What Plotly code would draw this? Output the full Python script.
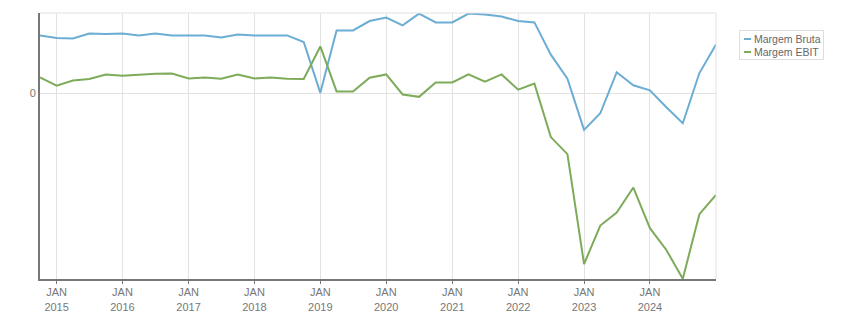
import plotly.graph_objects as go
import pandas as pd

# Quarterly observations, Q4-2014 .. Q1-2025 (plotted at quarter start)
dates = list(pd.date_range("2014-10-01", "2025-01-01", freq="QS"))

margem_bruta = [28.8, 27.5, 27.3, 29.8, 29.5, 29.8, 28.8, 29.8, 28.8, 28.8,
                28.8, 27.8, 29.3, 28.8, 28.8, 28.8, 25.5, 0.1, 31.3, 31.3,
                36.0, 37.7, 33.8, 39.7, 35.3, 35.3, 39.7, 39.3, 38.2, 36.0,
                35.3, 19.2, 7.2, -18.4, -10.1, 10.4, 3.9, 1.4, -7.1, -15.1,
                10.0, 24.3]
margem_ebit = [7.8, 3.7, 6.3, 7.0, 9.3, 8.7, 9.2, 9.7, 9.8, 7.3,
               7.8, 7.2, 9.3, 7.3, 7.8, 7.2, 7.0, 23.3, 0.8, 0.8,
               7.7, 9.3, -0.7, -1.9, 5.3, 5.3, 9.3, 5.7, 9.3, 1.7,
               4.7, -22.0, -30.5, -85.4, -66.2, -59.7, -47.2, -67.5, -78.4, -92.8,
               -60.5, -50.9]

series_names = ["Margem Bruta", "Margem EBIT"]
series_colors = ["#6cadd4", "#7dab5a"]

tick_dates = [f"{y}-01-01" for y in range(2015, 2025)]
tick_text = [f"JAN<br>{y}" for y in range(2015, 2025)]

fig = go.Figure()
for name, vals, col in zip(series_names, [margem_bruta, margem_ebit], series_colors):
    fig.add_trace(go.Scatter(x=dates, y=vals, mode="lines", name=name,
                             line=dict(color=col, width=2), showlegend=False))

fig.update_layout(
    width=851, height=313,
    margin=dict(l=40, r=135, t=13, b=34),
    paper_bgcolor="white", plot_bgcolor="white",
    font=dict(family="Liberation Sans, Arial, sans-serif", size=11, color="#777"),
    xaxis=dict(
        type="date", range=["2014-10-01", "2025-01-01"], automargin=False,
        tickvals=tick_dates, ticktext=tick_text,
        showgrid=True, gridcolor="#e2e2e2", gridwidth=1,
        showline=True, linecolor="#777", linewidth=2,
        ticks="outside", ticklen=3, tickcolor="#777", tickwidth=1,
        ticklabelstandoff=-1,
        tickfont=dict(size=11, color="#777"), zeroline=False,
    ),
    yaxis=dict(
        range=[-92.9, 40], tickvals=[0], ticktext=["0"], automargin=False,
        showgrid=True, gridcolor="#e2e2e2", gridwidth=1,
        showline=True, linecolor="#777", linewidth=2,
        ticks="", zeroline=False, tickfont=dict(size=11, color="#777"),
    ),
)

# top and right frame lines
fig.add_shape(type="line", xref="paper", yref="paper", x0=0, x1=1, y0=1, y1=1,
              line=dict(color="#e2e2e2", width=1))
fig.add_shape(type="line", xref="paper", yref="paper", x0=1, x1=1, y0=0, y1=1,
              line=dict(color="#e2e2e2", width=1))

# legend (custom, compact)
W, H = 676.0, 266.0
def px(x):
    return (x - 40) / W
def py(y):
    return (279 - y) / H

fig.add_shape(type="rect", xref="paper", yref="paper",
              x0=px(739.5), x1=px(823.5), y0=py(59.5), y1=py(30.5),
              line=dict(color="#dddddd", width=1), fillcolor="white")
for i, (name, col) in enumerate(zip(series_names, series_colors)):
    yy = 39 + 13 * i
    fig.add_shape(type="line", xref="paper", yref="paper",
                  x0=px(744), x1=px(751), y0=py(yy), y1=py(yy),
                  line=dict(color=col, width=2))
    fig.add_annotation(xref="paper", yref="paper", x=px(752.5), y=py(yy),
                       xanchor="left", yanchor="middle", text=name, showarrow=False,
                       font=dict(size=10.5, color="#666"), borderpad=0)

fig.write_html("out.html")
